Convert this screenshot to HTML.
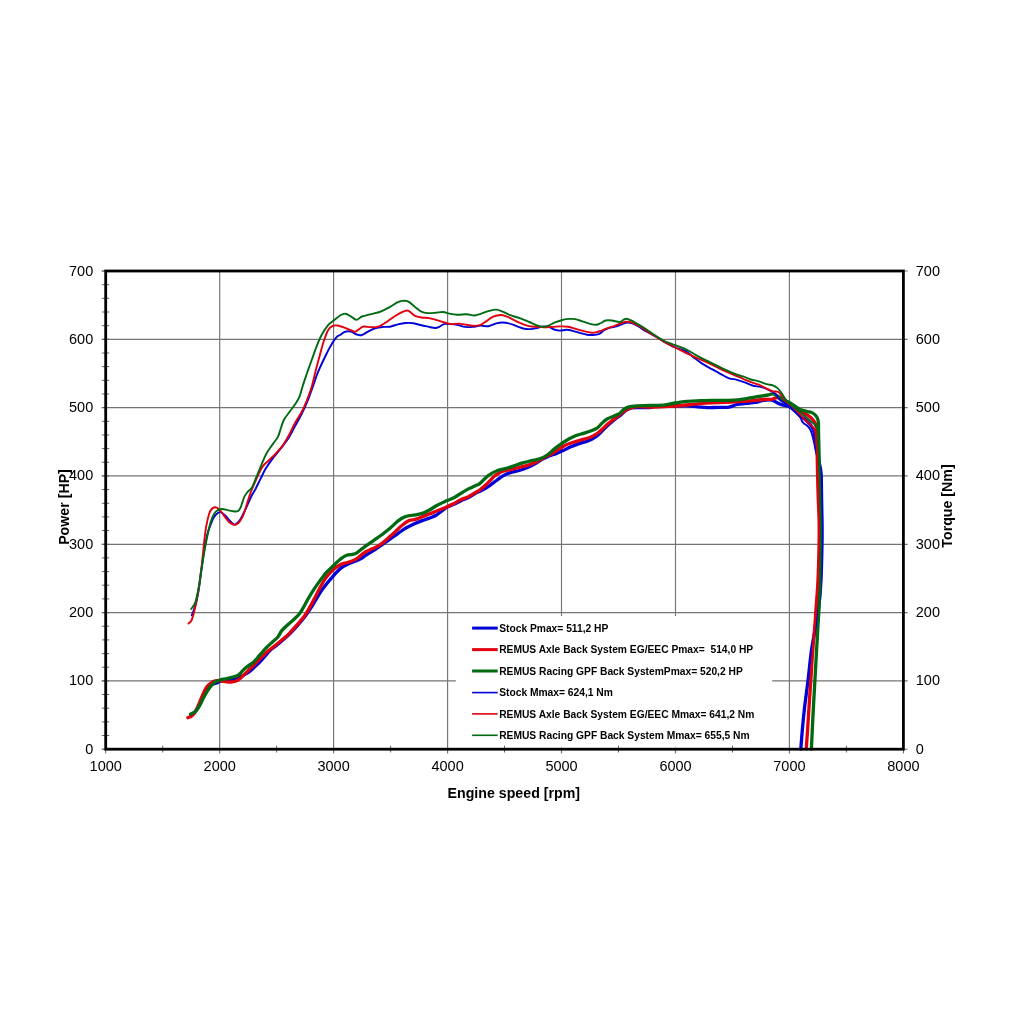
<!DOCTYPE html>
<html lang="en"><head><meta charset="utf-8"><title>Dyno chart</title>
<style>html,body{margin:0;padding:0;background:#fff}body{width:1024px;height:1024px;overflow:hidden}svg{display:block}text{font-family:"Liberation Sans",Arial,Helvetica,sans-serif;fill:#000}.t{font-size:14.5px}.b{font-weight:bold;font-size:14.2px}.l{font-weight:bold;font-size:10.25px}.c{fill:none;stroke-linecap:round;stroke-linejoin:round}</style>
</head><body>
<svg width="1024" height="1024" viewBox="0 0 1024 1024">
<rect width="1024" height="1024" fill="#fff"/>
<path d="M219.7 271V753.5M333.6 271V753.5M447.6 271V753.5M561.5 271V753.5M675.5 271V753.5M789.4 271V753.5M101.7 749.2H907.7M101.7 680.9H907.7M101.7 612.6H907.7M101.7 544.3H907.7M101.7 475.9H907.7M101.7 407.6H907.7M101.7 339.3H907.7M101.7 271H907.7" stroke="#747474" stroke-width="1.15" fill="none"/>
<rect x="455.8" y="616" width="316.4" height="131.5" fill="#fff"/>
<path d="M101.9 749.2H109.3M101.9 735.5H109.3M101.9 721.9H109.3M101.9 708.2H109.3M101.9 694.5H109.3M101.9 680.9H109.3M101.9 667.2H109.3M101.9 653.6H109.3M101.9 639.9H109.3M101.9 626.2H109.3M101.9 612.6H109.3M101.9 598.9H109.3M101.9 585.2H109.3M101.9 571.6H109.3M101.9 557.9H109.3M101.9 544.3H109.3M101.9 530.6H109.3M101.9 516.9H109.3M101.9 503.3H109.3M101.9 489.6H109.3M101.9 475.9H109.3M101.9 462.3H109.3M101.9 448.6H109.3M101.9 435H109.3M101.9 421.3H109.3M101.9 407.6H109.3M101.9 394H109.3M101.9 380.3H109.3M101.9 366.6H109.3M101.9 353H109.3M101.9 339.3H109.3M101.9 325.7H109.3M101.9 312H109.3M101.9 298.3H109.3M101.9 284.7H109.3M101.9 271H109.3M162.7 745.7V752.5M276.6 745.7V752.5M390.6 745.7V752.5M504.5 745.7V752.5M618.5 745.7V752.5M732.5 745.7V752.5M846.4 745.7V752.5M105.7 749.2V753.5M903.4 749.2V753.5" stroke="#666" stroke-width="1" fill="none"/>
<path class="c" d="M190.8 715.5C191.5 714.9 193.7 713.7 195 712C196.3 710.3 197.5 708.1 198.8 705.5C200.1 702.9 201.4 699.2 202.7 696.5C204 693.8 205.3 690.9 206.6 689C207.9 687.1 208.9 686 210.5 685C212.1 684 214.2 684 215.9 683.3C217.7 682.6 219.2 681.5 221 681C222.8 680.5 225 680.8 227 680.5C229 680.2 231.2 679.9 233 679.5C234.8 679.1 236.3 678.7 238 678C239.7 677.3 241.1 676.6 243 675.5C244.9 674.4 246.8 673.6 249.4 671.6C252 669.6 256 665.7 258.6 663.2C261.2 660.7 262.9 658.6 264.8 656.5C266.7 654.4 268 652.4 270 650.5C272 648.6 274.7 646.9 277 645C279.3 643.1 281.7 641.1 284 639C286.3 636.9 288.7 634.8 291 632.5C293.3 630.2 295.7 627.7 298 625C300.3 622.3 302.9 619.2 305 616.5C307.1 613.8 308.7 611.3 310.5 608.5C312.3 605.7 314.3 602.3 315.9 599.7C317.5 597.1 318.3 595.4 320 592.8C321.7 590.2 324 587.1 326.3 584.2C328.6 581.3 331.3 578.2 333.6 575.6C335.9 573 338.1 570.4 340.3 568.6C342.5 566.8 344.2 565.9 346.6 564.7C349 563.5 352.1 562.6 354.4 561.6C356.7 560.6 358.5 560 360.6 558.8C362.7 557.6 364.5 556 366.9 554.5C369.2 553 372.1 551.5 374.7 549.8C377.3 548.1 379.9 546.2 382.5 544.4C385.1 542.6 387.7 540.7 390.3 538.9C392.9 537.1 395.5 535.2 398.1 533.4C400.7 531.6 403.3 529.5 405.9 528C408.5 526.5 411.2 525.3 413.8 524.1C416.4 522.9 419 521.9 421.6 520.9C424.2 519.9 427.1 519 429.4 518.1C431.7 517.2 433.5 516.7 435.6 515.5C437.7 514.3 439.9 512.2 441.9 510.8C443.9 509.4 445.6 508 447.7 506.9C449.8 505.8 452.2 505.1 454.4 504.1C456.5 503.1 458.3 502 460.6 500.9C462.9 499.8 465.8 498.9 468.4 497.5C471 496.1 474.3 493.9 476.3 492.8C478.3 491.7 478.3 492.3 480.5 491.1C482.7 489.9 486.7 487.6 489.3 485.8C491.9 484 494 482.2 496.4 480.5C498.8 478.8 501.1 476.9 503.4 475.6C505.7 474.3 507.8 473.5 510.4 472.6C513 471.8 516.3 471.4 519.2 470.5C522.1 469.6 525.4 468.4 528 467.3C530.6 466.2 532.6 465.1 535 463.8C537.4 462.5 539.8 460.7 542.1 459.4C544.5 458.1 546.8 456.9 549.1 455.9C551.4 454.9 553.8 454.5 556.1 453.6C558.5 452.7 560.9 451.7 563.2 450.6C565.6 449.5 567.6 448.3 570.2 447.1C572.8 445.9 576.1 444.6 579 443.6C581.9 442.6 585.2 442 587.8 441C590.4 440 592.6 439 594.8 437.5C597 436 599 434.1 601 432.2C603 430.3 604.9 428.1 607.1 426C609.3 423.9 611.8 421.8 614.1 419.9C616.5 418 619.2 416.2 621.2 414.6C623.2 413 624.6 411.3 626.4 410.2C628.1 409.1 629.6 408.3 631.7 407.9C633.8 407.5 635.8 407.7 638.8 407.6C641.8 407.6 647.2 407.8 650 407.6C652.8 407.4 652.1 406.6 655.6 406.4C659.1 406.1 666.1 406.2 671.3 406.1C676.5 406 682.5 405.7 686.9 405.8C691.3 405.9 694.4 406.6 697.8 406.9C701.2 407.2 703.8 407.6 707.2 407.7C710.6 407.8 714.5 407.4 718.1 407.3C721.8 407.2 726 407.7 729.1 407.2C732.2 406.7 734 405.1 736.9 404.5C739.8 403.9 743.2 403.7 746.3 403.4C749.4 403.1 752.8 403 755.6 402.5C758.5 402 760.7 400.7 763.4 400.3C766.1 399.9 769.3 399.6 771.7 400C774.1 400.4 775.7 402 777.6 402.9C779.5 403.8 781.4 404.6 783.4 405.2C785.4 405.8 787.6 405.8 789.5 406.7C791.4 407.6 792.7 409 794.6 410.7C796.5 412.4 799.3 415.1 801.1 416.6C802.9 418.1 803.6 418.1 805.2 419.5C806.8 420.9 809 422.8 810.5 424.8C812 426.9 813.2 429 814 431.8C814.8 434.6 815 438.8 815.5 441.8C816 444.8 816.2 447.1 816.7 450C817.2 452.9 817.7 456 818.3 459C818.9 462 819.8 465.2 820.3 468C820.8 470.8 821 470.4 821.2 475.7C821.4 481 821.5 492.6 821.6 500C821.7 507.4 821.9 512.7 822 520C822.1 527.3 822.2 534 822 544C821.8 554 821.5 569.8 821 580C820.5 590.2 819.8 597.5 819 605C818.2 612.5 817.2 617.5 816 625C814.8 632.5 812.8 640.7 811.5 650C810.2 659.3 809.2 670.9 808 680.6C806.8 690.3 805.4 700.1 804.5 708C803.6 715.9 803.1 721.2 802.5 728C801.9 734.8 801.1 745.5 800.8 749" stroke="#0000d8" stroke-width="3.3"/>
<path class="c" d="M187.8 717.7C188.5 717.4 190.4 717.2 191.7 716.1C193 715 194.4 713.4 195.6 711.4C196.8 709.4 197.6 707.1 198.8 704.4C200 701.7 201.4 697.9 202.7 695C204 692.1 205.3 689.2 206.6 687.2C207.9 685.2 209.1 684.3 210.5 683.3C211.9 682.2 213.5 681.3 215.2 680.9C216.9 680.5 218.6 680.7 220.6 680.9C222.6 681.1 224.9 681.7 226.9 681.9C228.9 682.1 230.5 682.2 232.3 681.9C234.1 681.6 236.1 681.1 237.8 680.2C239.5 679.3 240.7 678 242.5 676.3C244.3 674.6 246.7 672.1 248.8 670C250.9 667.9 252.9 665.9 255 663.8C257.1 661.7 259.2 659.5 261.3 657.5C263.4 655.5 265.4 653.4 267.5 651.6C269.6 649.8 271.4 648.5 273.8 646.6C276.2 644.7 279 642.5 281.6 640.3C284.2 638.1 286.8 635.9 289.4 633.3C292 630.7 294.6 627.7 297.2 624.7C299.8 621.7 302.8 618.4 305 615.3C307.2 612.2 308.7 609.1 310.5 605.9C312.3 602.6 314.2 599 315.9 595.8C317.6 592.6 318.9 589.7 320.6 586.6C322.3 583.5 324.1 580.1 326.3 577.2C328.5 574.3 331.3 571.5 333.6 569.4C335.9 567.3 337.9 565.9 340.3 564.7C342.7 563.5 345.5 563.2 348.1 562.3C350.7 561.4 353.3 560.8 355.9 559.2C358.5 557.7 361.2 554.7 363.8 553C366.4 551.3 369 550.4 371.6 549.1C374.2 547.8 376.8 546.9 379.4 545.2C382 543.5 384.6 541.1 387.2 538.9C389.8 536.7 392.4 534.2 395 531.9C397.6 529.5 400.4 526.7 402.8 524.8C405.2 522.9 407 521.5 409.1 520.6C411.2 519.7 413.2 520 415.3 519.4C417.4 518.8 419.2 517.9 421.6 517C424 516.1 426.8 514.9 429.4 513.9C432 512.9 434.6 511.8 437.2 510.8C439.8 509.8 442.4 508.8 445 507.7C447.6 506.6 450.2 505.4 452.8 504.1C455.4 502.8 458 501 460.6 499.8C463.2 498.6 465.8 498 468.4 496.7C471 495.4 474.4 493.2 476.3 492C478.2 490.8 478.1 491.2 480 489.7C481.9 488.2 485.2 485.5 487.6 483.2C490 480.9 492.3 478 494.6 476.1C496.9 474.2 499 472.8 501.6 471.7C504.2 470.6 507.5 470.3 510.4 469.6C513.3 468.9 516.3 468 519.2 467.3C522.1 466.6 525.1 466.1 528 465.2C530.9 464.3 534.2 462.9 536.8 461.7C539.4 460.4 541.4 458.9 543.8 457.7C546.1 456.4 548.5 455.5 550.9 454.2C553.2 452.9 555.6 451.3 557.9 449.8C560.2 448.3 562.5 446.6 564.9 445.4C567.2 444.2 569.4 443.6 572 442.7C574.6 441.8 577.8 441 580.7 440.1C583.6 439.2 586.9 438.5 589.5 437.5C592.1 436.5 594.6 435.2 596.6 433.9C598.6 432.6 600 431.2 601.8 429.6C603.5 428.1 605 426.4 607.1 424.6C609.2 422.8 611.8 420.8 614.1 419C616.5 417.2 619.2 415.2 621.2 413.7C623.2 412.1 624.6 410.7 626.4 409.7C628.1 408.7 629.6 408.1 631.7 407.6C633.8 407.1 635.8 406.8 638.8 406.7C641.8 406.6 645.6 407.1 650 407.1C654.4 407.1 660.8 406.8 665 406.6C669.2 406.4 671.6 406.4 675.2 406.1C678.9 405.8 682.4 405.5 686.9 405C691.4 404.5 697.3 403.7 702.5 403.3C707.7 402.9 713.4 402.7 718.1 402.5C722.8 402.3 726.7 402.4 730.6 402.2C734.5 402 738 401.7 741.6 401.4C745.2 401.1 748.9 400.9 752.5 400.6C756.1 400.3 760.2 399.7 763.4 399.5C766.6 399.3 769.3 399.6 771.7 399.3C774.1 399 775.7 397.4 777.6 397.6C779.5 397.8 781 399.2 783 400.5C785 401.8 787.3 403.7 789.5 405.2C791.7 406.7 793.9 408.1 796 409.3C798.1 410.5 800.3 411.5 802.3 412.5C804.3 413.5 806.4 414.2 808.1 415.4C809.9 416.6 811.6 418.2 812.8 419.5C814 420.8 814.5 421.6 815.1 423C815.7 424.4 816 425.4 816.3 428C816.6 430.6 816.6 433.9 816.8 438.6C816.9 443.3 817.1 450 817.2 456.2C817.3 462.4 817.4 468.4 817.6 475.7C817.8 483 818 492.6 818.3 500C818.5 507.4 819 512.7 819.1 520C819.2 527.3 819.3 534 819.1 544C818.9 554 818.5 568.7 818 580C817.5 591.3 816.2 605.3 815.8 612C815.3 618.7 815.8 613.7 815.3 620C814.8 626.3 813.5 639.9 812.8 650C812 660.1 811.5 669.8 810.8 680.6C810.1 691.4 809.2 703.6 808.5 715C807.8 726.4 806.7 743.3 806.3 749" stroke="#e2000e" stroke-width="3.3"/>
<path class="c" d="M190.6 714.1C191.4 713.6 194.1 712.8 195.6 711.4C197.1 710 198.2 708.1 199.5 705.9C200.8 703.7 202.1 700.6 203.4 698.1C204.7 695.6 206 693.2 207.3 691.1C208.6 689 209.9 687.2 211.3 685.6C212.7 684 214.4 682.7 215.9 681.7C217.4 680.7 218.8 680.3 220.6 679.8C222.4 679.3 224.8 679.1 226.9 678.6C229 678.1 231.2 677.6 233.1 677C235 676.4 237 676 238.6 675C240.2 674 241.1 672.2 242.5 670.8C243.9 669.4 245.4 668 247.2 666.6C249 665.2 251.3 664.1 253.4 662.2C255.5 660.3 257.6 657.6 259.7 655.2C261.8 652.9 263.8 650.3 265.9 648.1C268 645.9 270.2 644 272.2 642.2C274.2 640.4 276.1 639.1 277.7 637.2C279.3 635.3 279.9 633 281.6 630.9C283.3 628.8 285.7 626.7 287.8 624.7C289.9 622.8 292.2 621 294.1 619.2C296.1 617.4 297.9 615.8 299.5 613.8C301.1 611.8 302 610 303.4 607.5C304.8 605 306.5 601.6 308.1 598.9C309.7 596.2 311.2 593.6 312.8 591.1C314.4 588.6 315.9 586.3 317.5 584.1C319.1 581.9 320.7 579.7 322.2 577.8C323.7 575.9 324.4 574.5 326.3 572.5C328.2 570.5 331.3 567.7 333.6 565.5C335.9 563.3 338.1 560.9 340.3 559.2C342.5 557.5 344.1 556.2 346.6 555.3C349.1 554.4 352.9 554.7 355.2 553.8C357.5 552.9 358.7 551.2 360.6 549.8C362.6 548.4 364.5 546.9 366.9 545.2C369.2 543.5 372.1 541.5 374.7 539.7C377.3 537.9 379.9 536.2 382.5 534.2C385.1 532.2 387.7 530.2 390.3 528C392.9 525.8 395.8 522.7 398.1 520.9C400.5 519.1 402.3 517.9 404.4 517C406.5 516.1 408.5 515.9 410.6 515.5C412.7 515.1 414.8 515.1 416.9 514.7C419 514.3 421 513.9 423.1 513.1C425.2 512.3 427 511.3 429.4 510C431.8 508.7 434.6 506.7 437.2 505.3C439.8 503.9 442.4 502.6 445 501.4C447.6 500.2 450.2 499.6 452.8 498.3C455.4 497 458 495.2 460.6 493.6C463.2 492 465.8 490.3 468.4 488.9C471 487.5 474.4 486.2 476.3 485.3C478.2 484.4 478.1 484.9 480 483.4C481.9 481.9 484.9 478.2 487.6 476.1C490.3 474 493.5 472.1 496.4 470.9C499.3 469.6 502.3 469.4 505.2 468.6C508.1 467.8 511 466.8 513.9 465.9C516.8 464.9 519.8 463.8 522.7 462.9C525.6 462 528.6 461.4 531.5 460.7C534.4 460 537.7 459.6 540.3 458.6C542.9 457.7 544.9 456.6 547.3 455C549.6 453.4 552 450.8 554.4 448.9C556.8 447 559.1 445.2 561.4 443.6C563.7 442 566 440.5 568.4 439.2C570.8 437.9 572.9 436.7 575.5 435.7C578.1 434.7 581.7 433.9 584.3 433.1C586.9 432.3 589.1 431.7 591.3 430.8C593.5 429.9 595.6 429 597.4 427.8C599.1 426.6 600.2 424.9 601.8 423.4C603.4 421.9 605 420.2 607.1 419C609.2 417.8 612.1 416.9 614.1 416C616.1 415.1 617.8 414.8 619.4 413.7C621 412.6 622.3 410.4 623.8 409.3C625.3 408.2 626 407.7 628.2 407.1C630.4 406.5 633.4 406.1 637 405.8C640.6 405.5 645.3 405.7 650 405.5C654.7 405.3 660.8 405.2 665 404.8C669.2 404.4 671.6 403.6 675.2 403C678.9 402.4 682.4 401.8 686.9 401.4C691.4 401 697.3 400.8 702.5 400.6C707.7 400.4 712.9 400.4 718.1 400.3C723.3 400.2 729.1 400.5 733.8 400.2C738.5 399.9 742.1 399.2 746.3 398.6C750.5 398 755.2 397.1 758.8 396.5C762.4 395.9 765.8 395.4 768.1 395C770.5 394.6 771.2 393.6 772.9 393.9C774.5 394.1 776.2 395.6 778 396.5C779.8 397.4 781.7 398.6 783.4 399.5C785.1 400.4 786.6 401.1 788 401.8C789.4 402.5 789.8 402.7 791.7 403.9C793.6 405.1 796.8 407.8 799.3 409C801.8 410.2 804.3 410.7 806.4 411.3C808.5 411.9 810.1 411.9 811.6 412.5C813.1 413.1 814.1 413.8 815.1 414.8C816.1 415.8 817 417.1 817.5 418.4C818 419.7 818.2 421 818.4 422.5C818.6 424 818.5 424.5 818.5 427.2C818.5 429.9 818.6 434.8 818.7 438.9C818.8 443 818.9 447.6 819 452C819.1 456.4 819.3 461.1 819.4 465C819.5 468.9 819.6 469.9 819.8 475.7C820 481.5 820.2 492.6 820.4 500C820.6 507.4 820.7 512.7 820.8 520C820.9 527.3 820.9 534 820.8 544C820.7 554 820.6 568.7 820.3 580C820 591.3 819.1 605.3 818.8 612C818.5 618.7 818.7 613.7 818.3 620C817.9 626.3 817.2 639.9 816.6 650C816 660.1 815.5 669.8 814.9 680.6C814.3 691.4 813.6 703.6 813 715C812.4 726.4 811.7 743.3 811.4 749" stroke="#006a12" stroke-width="3.3"/>
<path class="c" d="M191.7 615.3C192.1 614.3 193.2 612 194 609.5C194.8 607 195.9 604.2 196.8 600C197.7 595.8 198.7 590.2 199.6 584C200.5 577.8 201.5 569.5 202.4 563C203.3 556.5 204.1 550.2 205 545C205.9 539.8 207 535.5 208 532C209 528.5 210.1 526.1 211 523.7C211.9 521.3 212.7 519.3 213.7 517.6C214.7 515.9 216 514.4 217.2 513.5C218.3 512.6 219.3 511.9 220.6 512.1C221.8 512.3 223.3 513.6 224.7 514.9C226.1 516.1 227.4 518.1 228.8 519.6C230.2 521.1 231.8 522.9 232.9 523.7C234 524.5 234.5 525 235.6 524.4C236.7 523.8 238.3 522.2 239.7 520.3C241.1 518.4 242.4 515.5 243.8 512.8C245.2 510.1 246.5 506.9 247.9 503.9C249.3 500.9 250.8 497.4 252 495C253.2 492.6 254 491.9 255.4 489.2C256.8 486.5 258.8 482.3 260.5 478.9C262.2 475.5 263.6 472.1 265.6 468.7C267.7 465.3 270.2 461.8 272.8 458.4C275.4 455 278.3 451.8 281 448.2C283.7 444.6 286.8 440.7 289.2 436.9C291.6 433.1 293.2 429.4 295.3 425.6C297.4 421.8 299.4 418.4 301.5 414.3C303.6 410.2 305.7 405.6 307.6 401C309.5 396.4 311.1 391.5 312.8 386.7C314.5 381.9 316 376.9 317.9 372.3C319.8 367.7 321.9 363.3 324 359C326.1 354.7 328.1 350.3 330.2 346.7C332.2 343.1 334.7 339.3 336.3 337.4C337.9 335.4 338.6 335.9 340 335C341.4 334.1 342.9 332.5 344.7 331.9C346.5 331.3 348.8 331.1 350.9 331.6C353 332.1 355.4 334.1 357.2 334.7C359 335.3 360.1 335.5 361.9 335C363.7 334.5 365.8 332.8 368.1 331.6C370.4 330.4 373.3 328.8 375.9 328C378.5 327.2 381.4 327.1 383.8 326.9C386.2 326.7 387.7 327.1 390 326.7C392.3 326.3 395.2 325 397.8 324.4C400.4 323.8 403 323.2 405.6 323C408.2 322.8 410.8 322.9 413.4 323.3C416 323.7 418.7 324.6 421.3 325.2C423.9 325.8 426.8 326.4 429.1 326.9C431.4 327.4 433.6 328 435.3 328C437 328 437.8 327.5 439.2 326.9C440.6 326.2 442.2 324.6 443.9 324.1C445.6 323.6 447.2 324 449.4 324.1C451.6 324.2 454.6 324.3 457.2 324.8C459.8 325.3 462.4 326.5 465 326.9C467.6 327.2 470.2 327.1 472.8 326.9C475.4 326.7 478 325.7 480.6 325.6C483.2 325.5 485.8 326.6 488.4 326.2C491 325.8 493.9 323.9 496.3 323.3C498.7 322.7 500.4 322.5 502.5 322.5C504.6 322.5 506.4 322.7 508.8 323.3C511.2 323.9 514 325.2 516.6 326.1C519.2 327 522.1 328.3 524.4 328.8C526.7 329.3 528.5 329.2 530.6 329.1C532.7 329 534.8 328.4 536.9 328C539 327.6 541 326.5 543.1 326.4C545.2 326.3 547.6 326.7 549.4 327.2C551.2 327.7 552.4 328.9 554.1 329.5C555.8 330.1 557.4 330.6 559.5 330.6C561.6 330.7 564.4 329.8 566.6 329.8C568.8 329.8 570.5 330.2 572.8 330.8C575.1 331.4 578.2 332.5 580.6 333.1C583 333.8 584.8 334.4 586.9 334.7C589 335 591 335.1 593.1 335C595.2 334.9 597.6 334.6 599.4 333.8C601.2 333 602.3 331.4 604.1 330.3C605.9 329.2 608.2 328.1 610.3 327.5C612.4 326.9 614.5 327 616.6 326.4C618.7 325.8 621 324.4 622.8 323.8C624.6 323.2 625.9 322.6 627.5 322.5C629.1 322.4 630.4 322.7 632.2 323.3C634 323.9 636 325 638.4 326.4C640.8 327.8 643.2 329.7 646.3 331.5C649.4 333.3 654.4 335.7 657.2 337.3C660.1 338.9 660.4 339.6 663.4 341.3C666.4 343 671.6 345.9 675.2 347.5C678.9 349.1 682.3 349.3 685.3 350.9C688.3 352.5 690.2 354.7 693.1 356.9C696 359.1 699.4 361.9 702.5 363.9C705.6 365.9 708.8 367.4 711.9 369.1C715 370.9 718.4 372.9 721.3 374.4C724.2 375.9 726.5 377.4 729.1 378.3C731.7 379.2 734.3 379.1 736.9 379.8C739.5 380.5 742.1 381.4 744.7 382.3C747.3 383.2 749.9 384.7 752.5 385.5C755.1 386.3 757.9 386.3 760.3 386.9C762.6 387.5 764.5 388 766.6 388.9C768.7 389.8 771.2 391.1 772.8 392C774.3 392.9 774.7 393.1 775.9 394.4C777.1 395.7 778.4 398.4 779.8 399.8C781.2 401.2 782.9 401.9 784.5 403C786.1 404.1 787.4 404.7 789.2 406.1C791 407.5 793.3 409.6 795.2 411.5C797.1 413.4 799.4 416.2 800.5 417.8C801.6 419.4 801.5 420.4 802 421.3C802.5 422.2 802.7 422.4 803.6 423.2C804.5 424 806.4 424.9 807.5 426C808.6 427.1 809.7 428.5 810.5 430.1C811.3 431.8 811.9 433.6 812.5 435.9C813.1 438.1 813.8 441.2 814.3 443.6C814.8 446.1 815.1 448 815.7 450.6C816.3 453.2 817.2 456.1 818 459C818.8 461.9 819.8 465.2 820.3 468C820.8 470.8 821 470.4 821.2 475.7C821.4 481 821.5 492.6 821.6 500C821.7 507.4 821.9 512.7 822 520C822.1 527.3 822.2 534 822 544C821.8 554 821.5 569.8 821 580C820.5 590.2 819.8 597.5 819 605C818.2 612.5 817.2 617.5 816 625C814.8 632.5 812.8 640.7 811.5 650C810.2 659.3 809.2 670.9 808 680.6C806.8 690.3 805.4 700.1 804.5 708C803.6 715.9 803.1 721.2 802.5 728C801.9 734.8 801.1 745.5 800.8 749" stroke="#0000d8" stroke-width="1.9"/>
<path class="c" d="M188.5 623.6C189 623 190.6 622.4 191.7 620C192.8 617.6 194 612.2 194.8 609.1C195.6 606 195.6 605.5 196.4 601.3C197.2 597.1 198.5 590.4 199.4 583.9C200.3 577.4 201.3 569.1 202.1 562C202.9 554.9 203.5 547.4 204.2 541.5C204.9 535.6 205.4 531 206.2 526.5C207 522 208.1 517.1 209 514.2C209.9 511.3 210.7 510.1 211.7 509C212.7 507.9 214 507.4 215.1 507.3C216.2 507.2 217.3 507.8 218.5 508.7C219.7 509.6 220.8 511.2 222 512.8C223.2 514.4 224.6 516.6 226 518.3C227.4 520 228.8 522 230.2 523.1C231.6 524.2 232.9 524.8 234.3 524.8C235.7 524.8 237 524.4 238.4 523.1C239.8 521.8 241.2 519.5 242.5 516.9C243.8 514.3 244.8 510.7 245.9 507.3C247 503.9 248.2 499.7 249.3 496.4C250.4 493.1 251.3 490.8 252.7 487.5C254 484.2 255.8 480.4 257.4 476.9C259 473.4 260.6 469.3 262.5 466.6C264.4 463.9 266.5 462.7 268.7 460.5C270.9 458.3 273.5 455.9 275.9 453.3C278.3 450.7 280.8 448.2 283 445.1C285.2 442 287.1 438.6 289.2 434.8C291.2 431 293.2 426.2 295.3 422.5C297.4 418.8 299.6 415.9 301.5 412.3C303.4 408.7 304.9 405.3 306.6 401C308.3 396.7 310.2 391.8 311.7 386.7C313.2 381.6 314.4 375.5 315.8 370.2C317.2 364.9 318.5 359.8 319.9 354.9C321.3 349.9 322.6 344.6 324 340.5C325.4 336.4 326.7 332.6 328.1 330.2C329.5 327.8 330.6 326.9 332.2 326.1C333.8 325.3 335.3 325.2 337.4 325.5C339.4 325.8 342.3 326.8 344.5 327.6C346.7 328.4 349 329.5 350.7 330.2C352.4 330.9 353.4 331.8 354.8 331.7C356.2 331.6 357.5 330.3 358.9 329.4C360.3 328.5 361.3 326.9 363.4 326.5C365.5 326.1 368.7 327.3 371.3 327.3C373.9 327.3 376.5 327.3 379.1 326.4C381.7 325.5 384.3 323.4 386.9 321.7C389.5 320 392.1 317.9 394.7 316.3C397.3 314.7 400.4 312.9 402.5 311.9C404.6 310.9 406.1 310.4 407.5 310.5C408.9 310.6 409.9 311.9 411.1 312.8C412.4 313.7 413.3 315.1 415 315.9C416.7 316.7 418.9 317.1 421.3 317.5C423.7 317.9 426.5 317.7 429.1 318.1C431.7 318.6 434.3 319.5 436.9 320.2C439.5 320.9 442.4 321.9 444.7 322.5C447 323.1 448.5 323.9 450.9 324.1C453.2 324.3 456.2 323.5 458.8 323.6C461.4 323.7 464 324.4 466.6 324.8C469.2 325.2 472.1 325.9 474.4 325.9C476.7 325.9 478.5 325.6 480.6 324.8C482.7 324 484.8 322.2 486.9 320.9C489 319.5 490.8 317.7 493.1 316.7C495.4 315.7 498.5 315 500.9 315C503.2 315 504.8 315.8 507.2 316.7C509.6 317.6 512.4 319.4 515 320.6C517.6 321.8 520.4 323.2 522.8 324.1C525.1 325 526.8 325.6 529.1 326.1C531.5 326.6 534.3 326.7 536.9 326.9C539.5 327.1 542.1 327.2 544.7 327.2C547.3 327.2 549.9 327 552.5 326.9C555.1 326.8 557.7 326.4 560.3 326.4C562.9 326.4 565.5 326.3 568.1 326.7C570.7 327.1 573.3 328.1 575.9 328.8C578.5 329.5 581.2 330.5 583.8 331.1C586.4 331.8 589.5 332.5 591.6 332.7C593.7 332.9 594.8 332.6 596.3 332.3C597.8 332 599.3 331.4 600.9 330.8C602.5 330.2 603.5 329.5 605.6 328.8C607.7 328.1 611 327.2 613.4 326.4C615.8 325.6 617.9 324.5 619.7 323.8C621.5 323.1 623 322.4 624.4 322C625.8 321.6 626.7 321.5 628.3 321.7C629.9 321.9 631.8 322.5 633.8 323.3C635.8 324.1 637.9 325.4 640 326.6C642.1 327.8 644.5 329.4 646.3 330.6C648.1 331.8 648 332 650.9 333.8C653.8 335.6 659.3 339 663.4 341.3C667.5 343.6 671.3 345.5 675.2 347.5C679.1 349.5 683.1 351.6 686.9 353.4C690.7 355.2 693.9 356.6 697.8 358.4C701.7 360.1 706.1 361.9 710.3 363.9C714.5 365.9 718.9 368.4 722.8 370.2C726.7 372 730.4 373.4 733.8 374.8C737.2 376.2 740.2 377.6 743.1 378.8C746 380 748.3 381.2 750.9 382.2C753.5 383.2 756.2 383.6 758.8 384.7C761.4 385.8 764.3 387.5 766.6 388.6C768.9 389.7 770.8 390.7 772.8 391.3C774.8 391.9 776.7 391.1 778.3 392C779.9 392.9 780.9 395.1 782.2 396.7C783.5 398.3 784.8 400.1 786.1 401.4C787.4 402.7 788.2 402.9 790 404.5C791.8 406.1 794.6 408.5 797 411C799.4 413.5 802.4 417.2 804.6 419.5C806.9 421.8 808.8 423.1 810.5 424.8C812.2 426.5 813.7 427.6 814.6 429.5C815.5 431.4 815.4 433.4 815.7 435.9C816 438.4 816.4 442 816.6 444.7C816.8 447.4 816.8 449.4 816.9 452C817 454.6 817.1 456.1 817.2 460C817.3 463.9 817.4 469 817.6 475.7C817.8 482.4 818 492.6 818.3 500C818.5 507.4 819 512.7 819.1 520C819.2 527.3 819.3 534 819.1 544C818.9 554 818.5 568.7 818 580C817.5 591.3 816.2 605.3 815.8 612C815.3 618.7 815.8 613.7 815.3 620C814.8 626.3 813.5 639.9 812.8 650C812 660.1 811.5 669.8 810.8 680.6C810.1 691.4 809.2 703.6 808.5 715C807.8 726.4 806.7 743.3 806.3 749" stroke="#e2000e" stroke-width="1.9"/>
<path class="c" d="M191.2 609C191.8 608.1 193.8 605.9 194.8 603.6C195.8 601.3 196.4 598.5 197.2 595C198 591.5 198.9 586.2 199.5 582.5C200.1 578.8 200 578 200.8 573C201.6 568 203.1 558.9 204.2 552.5C205.3 546.1 206.5 540 207.6 534.7C208.7 529.5 209.9 524.5 211 521C212.1 517.5 213.3 515.3 214.4 513.5C215.5 511.7 216.5 510.9 217.8 510.1C219.1 509.4 220.4 509 222 509C223.6 509 225.6 509.7 227.4 510.1C229.2 510.5 231.2 511 232.9 511.2C234.6 511.4 236.4 511.7 237.7 511.2C238.9 510.7 239.6 509.6 240.4 508C241.2 506.4 241.8 503.8 242.5 501.9C243.2 500 243.6 498.1 244.5 496.4C245.4 494.7 246.7 493.1 247.9 491.6C249.2 490.1 250.6 489.9 252 487.5C253.4 485.1 254.8 480.7 256.4 476.9C258 473.1 259.8 468.5 261.5 464.6C263.2 460.7 264.7 456.7 266.6 453.3C268.5 449.9 270.9 446.8 272.8 444.1C274.7 441.4 276.5 439.6 277.9 436.9C279.3 434.2 280 430.6 281 427.7C282 424.8 282.7 422.1 284.1 419.5C285.5 416.9 287.3 414.9 289.2 412.3C291.1 409.7 293.6 406.7 295.3 404.1C297 401.5 298.2 399.8 299.4 396.9C300.6 394 301.3 390.5 302.5 386.7C303.7 382.9 305.1 378.8 306.6 374.3C308.1 369.9 310 364.8 311.7 360C313.4 355.2 315.2 349.9 316.9 345.6C318.6 341.3 320.1 337.7 322 334.3C323.9 330.9 326.1 327.5 328.1 325.1C330.2 322.7 332.2 321.6 334.3 320C336.4 318.4 338.5 316.4 340.4 315.3C342.3 314.2 343.8 313.5 345.5 313.7C347.2 313.9 349 315.4 350.8 316.4C352.6 317.4 354.6 319.8 356.5 319.8C358.4 319.8 359.5 317.4 362 316.5C364.5 315.6 368.2 314.9 371.3 314.1C374.4 313.3 377.5 312.8 380.6 311.6C383.7 310.4 387.1 308.5 390 306.9C392.9 305.3 395.4 303.2 397.8 302.2C400.2 301.1 402.3 300.7 404.1 300.6C405.9 300.6 407 300.8 408.8 301.9C410.6 302.9 412.9 305.3 415 306.9C417.1 308.5 419.2 310.6 421.3 311.6C423.4 312.6 425.2 312.9 427.5 313.1C429.8 313.3 432.7 313 435.3 312.8C437.9 312.6 440.8 311.9 443.1 312C445.5 312.1 447 313.2 449.4 313.6C451.8 314.1 454.3 314.6 457.2 314.7C460.1 314.8 463.7 314.1 466.6 314.2C469.5 314.3 472.1 315.6 474.4 315.5C476.7 315.4 478.3 314.6 480.6 313.9C482.9 313.2 485.8 311.8 488.4 311.1C491 310.4 493.9 309.5 496.3 309.6C498.7 309.7 500.2 310.7 502.5 311.6C504.8 312.5 507.4 314.1 510.3 315.2C513.2 316.3 516.6 317 519.7 318.1C522.8 319.2 526.2 320.8 529.1 322C532 323.2 534.6 324.5 536.9 325.3C539.2 326.1 541.3 326.8 543.1 326.9C544.9 327 545.7 326.7 547.8 325.9C549.9 325.1 553 323.2 555.6 322.2C558.2 321.2 561 320.2 563.4 319.7C565.8 319.1 567.7 319 569.7 318.9C571.7 318.8 573.1 318.7 575.2 319.1C577.3 319.5 579.7 320.5 582.2 321.3C584.7 322.1 587.6 323.2 590 323.8C592.4 324.4 594.5 324.9 596.3 324.8C598.1 324.7 599.3 323.7 600.9 323C602.5 322.3 603.8 320.9 605.6 320.5C607.4 320.1 609.5 320.2 611.9 320.5C614.2 320.8 617.8 322.1 619.7 322C621.7 321.9 622.4 320.2 623.6 319.7C624.8 319.2 625.5 318.7 626.7 318.8C627.9 318.9 628.9 319.4 630.6 320.2C632.3 321 634.8 322.4 636.9 323.6C639 324.8 640.8 325.7 643.1 327.2C645.4 328.7 647.5 330.3 650.9 332.5C654.3 334.7 659.3 338.4 663.4 340.5C667.5 342.6 671.3 343.6 675.2 345.2C679.1 346.8 683.1 348 686.9 349.8C690.7 351.6 693.9 354 697.8 356.1C701.7 358.2 706.1 360.2 710.3 362.3C714.5 364.4 718.9 366.8 722.8 368.6C726.7 370.4 730.4 372 733.8 373.3C737.2 374.6 740.2 375.4 743.1 376.4C746 377.4 748.3 378.7 750.9 379.5C753.5 380.3 756.2 380.5 758.8 381.3C761.4 382.1 764.3 383.4 766.6 384.1C768.9 384.8 771 384.7 772.8 385.4C774.6 386.1 776.1 386.9 777.5 388.1C778.9 389.3 780.1 391 781.4 392.8C782.7 394.6 784 397.3 785.3 399.1C786.6 400.9 787.8 402 789.2 403.4C790.7 404.8 792.3 405.9 794 407.2C795.7 408.5 797.6 409.9 799.3 411.3C801 412.7 802.4 414 804 415.4C805.6 416.8 807.2 418.2 809 419.7C810.8 421.2 813.3 423 814.6 424.5C815.9 426 816.4 426.9 817 428.5C817.6 430.1 817.9 430.4 818.2 434C818.5 437.6 818.4 445.1 818.6 450.3C818.8 455.5 819.2 460.8 819.4 465C819.6 469.2 819.6 469.9 819.8 475.7C820 481.5 820.2 492.6 820.4 500C820.6 507.4 820.7 512.7 820.8 520C820.9 527.3 820.9 534 820.8 544C820.7 554 820.6 568.7 820.3 580C820 591.3 819.1 605.3 818.8 612C818.5 618.7 818.7 613.7 818.3 620C817.9 626.3 817.2 639.9 816.6 650C816 660.1 815.5 669.8 814.9 680.6C814.3 691.4 813.6 703.6 813 715C812.4 726.4 811.7 743.3 811.4 749" stroke="#006a12" stroke-width="1.9"/>
<rect x="105.7" y="271" width="797.7" height="478.2" fill="none" stroke="#000" stroke-width="2.8"/>
<text class="t" transform="translate(93.2 753.7) scale(1 1.05)" text-anchor="end">0</text>
<text class="t" transform="translate(915.8 753.7) scale(1 1.05)">0</text>
<text class="t" transform="translate(93.2 685.4) scale(1 1.05)" text-anchor="end">100</text>
<text class="t" transform="translate(915.8 685.4) scale(1 1.05)">100</text>
<text class="t" transform="translate(93.2 617.1) scale(1 1.05)" text-anchor="end">200</text>
<text class="t" transform="translate(915.8 617.1) scale(1 1.05)">200</text>
<text class="t" transform="translate(93.2 548.8) scale(1 1.05)" text-anchor="end">300</text>
<text class="t" transform="translate(915.8 548.8) scale(1 1.05)">300</text>
<text class="t" transform="translate(93.2 480.4) scale(1 1.05)" text-anchor="end">400</text>
<text class="t" transform="translate(915.8 480.4) scale(1 1.05)">400</text>
<text class="t" transform="translate(93.2 412.1) scale(1 1.05)" text-anchor="end">500</text>
<text class="t" transform="translate(915.8 412.1) scale(1 1.05)">500</text>
<text class="t" transform="translate(93.2 343.8) scale(1 1.05)" text-anchor="end">600</text>
<text class="t" transform="translate(915.8 343.8) scale(1 1.05)">600</text>
<text class="t" transform="translate(93.2 275.5) scale(1 1.05)" text-anchor="end">700</text>
<text class="t" transform="translate(915.8 275.5) scale(1 1.05)">700</text>
<text class="t" transform="translate(105.7 771.1) scale(1 1.05)" text-anchor="middle">1000</text>
<text class="t" transform="translate(219.7 771.1) scale(1 1.05)" text-anchor="middle">2000</text>
<text class="t" transform="translate(333.6 771.1) scale(1 1.05)" text-anchor="middle">3000</text>
<text class="t" transform="translate(447.6 771.1) scale(1 1.05)" text-anchor="middle">4000</text>
<text class="t" transform="translate(561.5 771.1) scale(1 1.05)" text-anchor="middle">5000</text>
<text class="t" transform="translate(675.5 771.1) scale(1 1.05)" text-anchor="middle">6000</text>
<text class="t" transform="translate(789.4 771.1) scale(1 1.05)" text-anchor="middle">7000</text>
<text class="t" transform="translate(903.4 771.1) scale(1 1.05)" text-anchor="middle">8000</text>
<text class="b" x="513.8" y="798.3" text-anchor="middle">Engine speed [rpm]</text>
<text class="b" transform="translate(68.6 507) rotate(-90)" text-anchor="middle">Power [HP]</text>
<text class="b" transform="translate(952 506) rotate(-90)" text-anchor="middle">Torque [Nm]</text>
<path d="M472.1 628.1H497.7" stroke="#0000d8" stroke-width="3.0" fill="none"/>
<text class="l" x="499.2" y="631.8" xml:space="preserve">Stock Pmax= 511,2 HP</text>
<path d="M472.1 649.6H497.7" stroke="#e2000e" stroke-width="3.0" fill="none"/>
<text class="l" x="499.2" y="653.3" xml:space="preserve">REMUS Axle Back System EG/EEC Pmax=  514,0 HP</text>
<path d="M472.1 671H497.7" stroke="#006a12" stroke-width="3.0" fill="none"/>
<text class="l" x="499.2" y="674.7" xml:space="preserve">REMUS Racing GPF Back SystemPmax= 520,2 HP</text>
<path d="M472.1 692.6H497.7" stroke="#0000d8" stroke-width="1.6" fill="none"/>
<text class="l" x="499.2" y="696.3" xml:space="preserve">Stock Mmax= 624,1 Nm</text>
<path d="M472.1 713.9H497.7" stroke="#e2000e" stroke-width="1.6" fill="none"/>
<text class="l" x="499.2" y="717.6" xml:space="preserve">REMUS Axle Back System EG/EEC Mmax= 641,2 Nm</text>
<path d="M472.1 735.3H497.7" stroke="#006a12" stroke-width="1.6" fill="none"/>
<text class="l" x="499.2" y="739" xml:space="preserve">REMUS Racing GPF Back System Mmax= 655,5 Nm</text>
</svg></body></html>
